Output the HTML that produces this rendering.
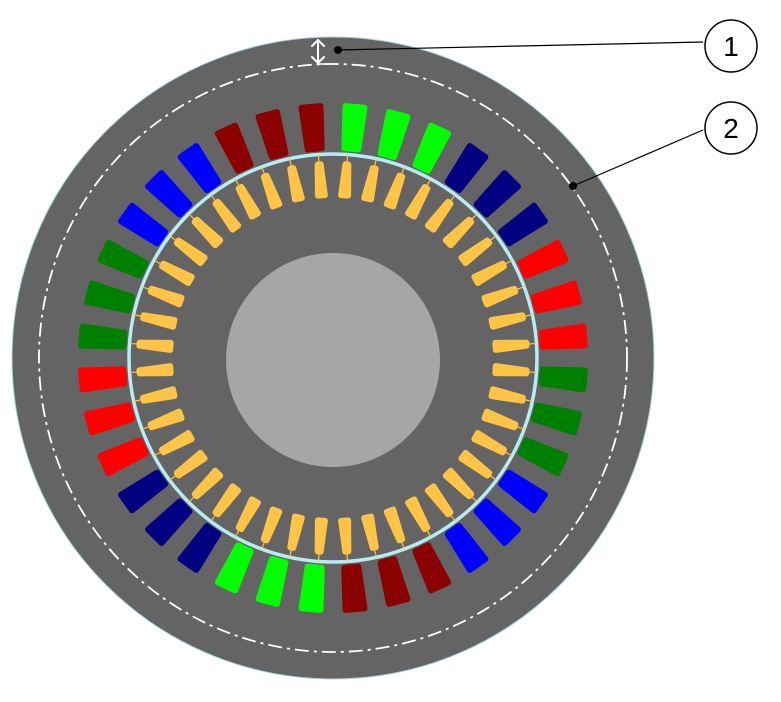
<!DOCTYPE html>
<html><head><meta charset="utf-8"><style>html,body{margin:0;padding:0;background:#fff;width:781px;height:702px;overflow:hidden}</style></head>
<body>
<svg width="781" height="702" viewBox="0 0 781 702" xmlns="http://www.w3.org/2000/svg">
<defs>
<path id="ss" d="M-7,-210 L7,-210 L9.5,-252 L-9.5,-252 Z" stroke-linejoin="round" stroke-width="6"/>
<g id="rs"><line x1="0" y1="-194" x2="0" y2="-204" stroke="#FFC445" stroke-width="1.2"/><path d="M-1.5,-194 L1.5,-194 L3.5,-163 L-3.5,-163 Z" fill="#FFC445" stroke="#FFC445" stroke-width="6" stroke-linejoin="round"/></g>
</defs>
<circle cx="333" cy="358" r="321" fill="#646464" stroke="#A8D0DC" stroke-width="1"/>
<circle cx="333" cy="358" r="294" fill="none" stroke="#fff" stroke-width="1.8" stroke-dasharray="14,5,3,5"/>
<g transform="translate(333,358)">
<g fill="#00FF00" stroke="#00FF00"><use href="#ss" transform="rotate(5)"/><use href="#ss" transform="rotate(15)"/><use href="#ss" transform="rotate(25)"/><use href="#ss" transform="rotate(185)"/><use href="#ss" transform="rotate(195)"/><use href="#ss" transform="rotate(205)"/></g>
<g fill="#000080" stroke="#000080"><use href="#ss" transform="rotate(35)"/><use href="#ss" transform="rotate(45)"/><use href="#ss" transform="rotate(55)"/><use href="#ss" transform="rotate(215)"/><use href="#ss" transform="rotate(225)"/><use href="#ss" transform="rotate(235)"/></g>
<g fill="#FF0000" stroke="#FF0000"><use href="#ss" transform="rotate(65)"/><use href="#ss" transform="rotate(75)"/><use href="#ss" transform="rotate(85)"/><use href="#ss" transform="rotate(245)"/><use href="#ss" transform="rotate(255)"/><use href="#ss" transform="rotate(265)"/></g>
<g fill="#008000" stroke="#008000"><use href="#ss" transform="rotate(95)"/><use href="#ss" transform="rotate(105)"/><use href="#ss" transform="rotate(115)"/><use href="#ss" transform="rotate(275)"/><use href="#ss" transform="rotate(285)"/><use href="#ss" transform="rotate(295)"/></g>
<g fill="#0000FF" stroke="#0000FF"><use href="#ss" transform="rotate(125)"/><use href="#ss" transform="rotate(135)"/><use href="#ss" transform="rotate(145)"/><use href="#ss" transform="rotate(305)"/><use href="#ss" transform="rotate(315)"/><use href="#ss" transform="rotate(325)"/></g>
<g fill="#8B0000" stroke="#8B0000"><use href="#ss" transform="rotate(155)"/><use href="#ss" transform="rotate(165)"/><use href="#ss" transform="rotate(175)"/><use href="#ss" transform="rotate(335)"/><use href="#ss" transform="rotate(345)"/><use href="#ss" transform="rotate(355)"/></g>
<circle cx="0" cy="0" r="204" fill="none" stroke="#B8ECF5" stroke-width="3.5"/>
<use href="#rs" transform="rotate(4.09)"/><use href="#rs" transform="rotate(12.27)"/><use href="#rs" transform="rotate(20.45)"/><use href="#rs" transform="rotate(28.64)"/><use href="#rs" transform="rotate(36.82)"/><use href="#rs" transform="rotate(45)"/><use href="#rs" transform="rotate(53.18)"/><use href="#rs" transform="rotate(61.36)"/><use href="#rs" transform="rotate(69.55)"/><use href="#rs" transform="rotate(77.73)"/><use href="#rs" transform="rotate(85.91)"/>
<use href="#rs" transform="rotate(94.09)"/><use href="#rs" transform="rotate(102.27)"/><use href="#rs" transform="rotate(110.45)"/><use href="#rs" transform="rotate(118.64)"/><use href="#rs" transform="rotate(126.82)"/><use href="#rs" transform="rotate(135)"/><use href="#rs" transform="rotate(143.18)"/><use href="#rs" transform="rotate(151.36)"/><use href="#rs" transform="rotate(159.55)"/><use href="#rs" transform="rotate(167.73)"/><use href="#rs" transform="rotate(175.91)"/>
<use href="#rs" transform="rotate(184.09)"/><use href="#rs" transform="rotate(192.27)"/><use href="#rs" transform="rotate(200.45)"/><use href="#rs" transform="rotate(208.64)"/><use href="#rs" transform="rotate(216.82)"/><use href="#rs" transform="rotate(225)"/><use href="#rs" transform="rotate(233.18)"/><use href="#rs" transform="rotate(241.36)"/><use href="#rs" transform="rotate(249.55)"/><use href="#rs" transform="rotate(257.73)"/><use href="#rs" transform="rotate(265.91)"/>
<use href="#rs" transform="rotate(274.09)"/><use href="#rs" transform="rotate(282.27)"/><use href="#rs" transform="rotate(290.45)"/><use href="#rs" transform="rotate(298.64)"/><use href="#rs" transform="rotate(306.82)"/><use href="#rs" transform="rotate(315)"/><use href="#rs" transform="rotate(323.18)"/><use href="#rs" transform="rotate(331.36)"/><use href="#rs" transform="rotate(339.55)"/><use href="#rs" transform="rotate(347.73)"/><use href="#rs" transform="rotate(355.91)"/>
</g>
<circle cx="333" cy="360" r="107" fill="#A6A6A6"/>
<g stroke="#fff" stroke-width="2" fill="none" stroke-linecap="round">
<line x1="318" y1="40" x2="318" y2="63"/>
<polyline points="312,46 318,40 324,46"/>
<polyline points="312,57 318,63 324,57"/>
<line x1="318" y1="64" x2="331" y2="64" stroke-width="1.5"/>
</g>
<line x1="338" y1="50" x2="703" y2="42" stroke="#000" stroke-width="1.2"/>
<circle cx="338" cy="50" r="4" fill="#000"/>
<line x1="573" y1="186" x2="703" y2="130" stroke="#000" stroke-width="1.2"/>
<circle cx="573" cy="186" r="4" fill="#000"/>
<circle cx="731" cy="46" r="26" fill="#fff" stroke="#000" stroke-width="1.5"/>
<circle cx="731" cy="128" r="26" fill="#fff" stroke="#000" stroke-width="1.5"/>
<text x="731" y="56" font-family="Liberation Sans, sans-serif" font-size="28" text-anchor="middle">1</text>
<text x="731" y="138" font-family="Liberation Sans, sans-serif" font-size="28" text-anchor="middle">2</text>
</svg>
</body></html>
